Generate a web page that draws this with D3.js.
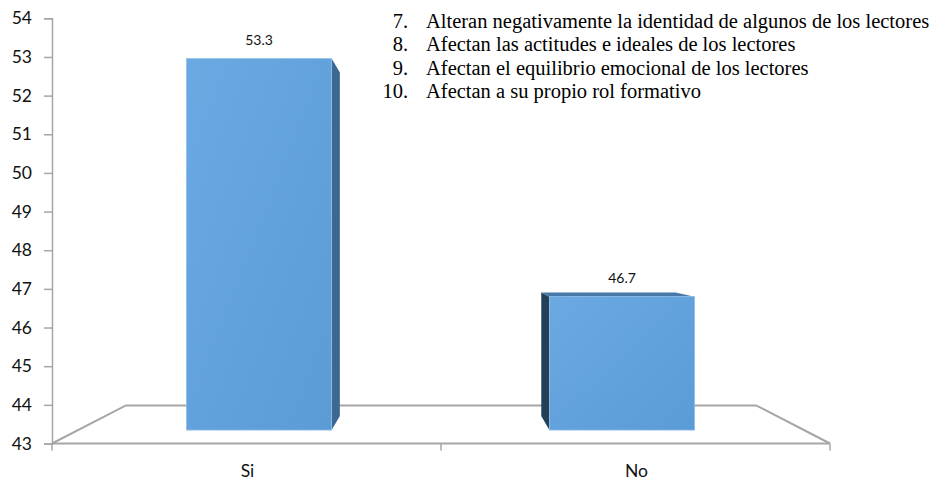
<!DOCTYPE html>
<html><head><meta charset="utf-8">
<script src="https://cdn.jsdelivr.net/npm/d3@7"></script>
<style>body{margin:0;background:#fff;}svg{display:block;}</style>
</head><body>
<svg id="chart" width="939" height="481"></svg>
<script>
const categories = ["Si", "No"];
const values = [53.3, 46.7];
const yTicks = [43, 44, 45, 46, 47, 48, 49, 50, 51, 52, 53, 54];
const legendNumbers = ["7.", "8.", "9.", "10."];
const legendTexts = [
  "Alteran negativamente la identidad de algunos de los lectores",
  "Afectan las actitudes e ideales de los lectores",
  "Afectan el equilibrio emocional de los lectores",
  "Afectan a su propio rol formativo"
];

const svg = d3.select("#chart");
const y = d3.scaleLinear().domain([43, 54]).range([443.5, 18.3]);
const x = d3.scaleBand().domain(categories).range([52, 830]).padding(0);
const VP = [441, 243];
const proj = (xf, yf, d) => [xf + d * (VP[0] - xf), yf + d * (VP[1] - yf)];
const floorDepth = 0.19, d0 = 0.067, d1 = 0.137;
const grey = "#a6a6a6";

const defs = svg.append("defs");
const g = defs.append("linearGradient").attr("id", "front").attr("x1", 0).attr("y1", 0).attr("x2", 1).attr("y2", 1);
g.append("stop").attr("offset", 0).attr("stop-color", "#6aa9e2");
g.append("stop").attr("offset", 1).attr("stop-color", "#5b9bd6");

// floor
const base = y.domain()[0];
const fl = proj(52, y(base), 0), fr = proj(830, y(base), 0);
const bl = proj(52, y(base), floorDepth), br = proj(830, y(base), floorDepth);
svg.append("path")
  .attr("d", d3.line()([fl, bl, br, fr]))
  .attr("fill", "none").attr("stroke", grey).attr("stroke-width", 2);
svg.append("line").attr("x1", fl[0]).attr("x2", fr[0]).attr("y1", fl[1]).attr("y2", fl[1])
  .attr("stroke", grey).attr("stroke-width", 2);

[x.range()[0], ...categories.map(c => x(c) + x.bandwidth())].forEach(t => {
  svg.append("line").attr("x1", t).attr("x2", t).attr("y1", y(base)).attr("y2", y(base) + 7)
    .attr("stroke", grey).attr("stroke-width", 1.5);
});

// y axis
const yAxis = d3.axisLeft(y).tickValues(yTicks).tickSize(8).tickPadding(12).tickFormat(d3.format("d"));
const ax = svg.append("g").attr("transform", "translate(52,0)").call(yAxis);
ax.select(".domain").attr("stroke", grey).attr("stroke-width", 1.5);
ax.selectAll(".tick line").attr("stroke", grey).attr("stroke-width", 1.5);
ax.selectAll(".tick text").attr("font-family", "Lato, sans-serif").attr("font-size", 17.5).attr("fill", "#111");

// x labels
svg.selectAll(".xl").data(categories).join("text")
  .attr("x", c => x(c) + x.bandwidth() / 2 + 1)
  .attr("y", 477)
  .attr("text-anchor", "middle")
  .attr("font-family", "Lato, sans-serif").attr("font-size", 17.5).attr("fill", "#111")
  .text(c => c);

// bars
const barW = x.bandwidth() * 0.4;
categories.forEach((c, i) => {
  const cx = x(c) + x.bandwidth() / 2 - 0.5;
  const L = cx - barW / 2, R = cx + barW / 2;
  const yt = y(values[i]), yb = y(base);
  const gB = svg.append("g");
  if (R < VP[0]) {
    gB.append("path").attr("d", d3.line()([proj(R, yt, d0), proj(R, yt, d1), proj(R, yb, d1), proj(R, yb, d0)]) + "Z")
      .attr("fill", "#3b6791");
  } else if (L > VP[0]) {
    gB.append("path").attr("d", d3.line()([proj(L, yt, d0), proj(L, yt, d1), proj(L, yb, d1), proj(L, yb, d0)]) + "Z")
      .attr("fill", "#243f58");
  }
  if (yt > VP[1]) {
    gB.append("path").attr("d", d3.line()([proj(L, yt, d0), proj(L, yt, d1), proj(R, yt, d1), proj(R, yt, d0)]) + "Z")
      .attr("fill", "#4678a8");
  }
  const p1 = proj(L, yt, d0), p2 = proj(R, yb, d0);
  gB.append("rect").attr("x", p1[0]).attr("y", p1[1]).attr("width", p2[0] - p1[0]).attr("height", p2[1] - p1[1])
    .attr("fill", "url(#front)").attr("stroke", "#8fbde9").attr("stroke-width", 0.8);
  svg.append("text")
    .attr("x", (p1[0] + p2[0]) / 2).attr("y", p1[1] - 14)
    .attr("text-anchor", "middle")
    .attr("font-family", "Lato, sans-serif").attr("font-size", 14).attr("fill", "#111")
    .text(values[i].toFixed(1));
});

// legend text
const lg = svg.append("g").attr("font-family", "'Liberation Serif', 'Times New Roman', serif").attr("font-size", 20.5).attr("fill", "#000");
legendNumbers.forEach((n, i) => {
  lg.append("text").attr("x", 408).attr("y", 28 + i * 23.3).attr("text-anchor", "end").text(n);
  lg.append("text").attr("x", 426).attr("y", 28 + i * 23.3).text(legendTexts[i]);
});
</script>
</body></html>
